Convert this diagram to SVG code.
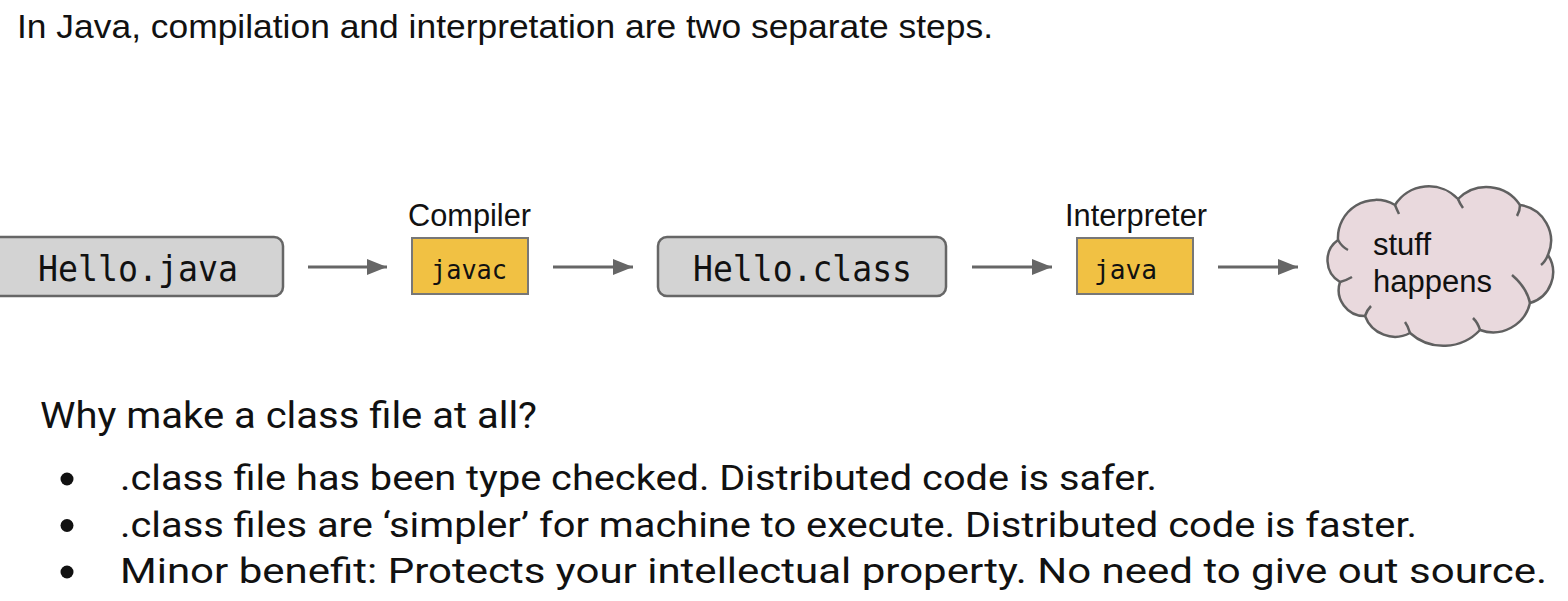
<svg xmlns="http://www.w3.org/2000/svg" width="1568" height="601" viewBox="0 0 1568 601">
<defs>
<style>
.sans{font-family:"Liberation Sans",Arial,sans-serif;fill:#111}
.rob{font-family:Roboto,"Liberation Sans",sans-serif;fill:#111}
.mono{font-family:"DejaVu Sans Mono","Liberation Mono",monospace;fill:#111}
.file{fill:#d3d3d3;stroke:#666;stroke-width:2.5}
.tool{fill:#f1c143;stroke:#777;stroke-width:2}
.conn{stroke:#666;stroke-width:3;fill:none}
</style>
<marker id="ah" markerWidth="20" markerHeight="16" refX="20" refY="8" orient="auto" markerUnits="userSpaceOnUse">
<path d="M0,0 L20,8 L0,16 Z" fill="#666"/>
</marker>
</defs>
<rect width="1568" height="601" fill="#fff"/>
<text class="sans" x="17" y="38" font-size="33" textLength="976" lengthAdjust="spacingAndGlyphs">In Java, compilation and interpretation are two separate steps.</text>

<g id="hello-java">
<rect class="file" x="-8" y="237" width="291" height="59" rx="9"/>
<text class="mono" x="38" y="281" font-size="35" textLength="200" lengthAdjust="spacingAndGlyphs">Hello.java</text>
</g>
<g id="javac">
<text class="sans" x="408" y="226" font-size="31" textLength="123" lengthAdjust="spacingAndGlyphs">Compiler</text>
<rect class="tool" x="412" y="238" width="116" height="56"/>
<text class="mono" x="431" y="279" font-size="27" textLength="76" lengthAdjust="spacingAndGlyphs">javac</text>
</g>
<g id="hello-class">
<rect class="file" x="658" y="237" width="288" height="59" rx="9"/>
<text class="mono" x="693" y="281" font-size="35" textLength="219" lengthAdjust="spacingAndGlyphs">Hello.class</text>
</g>
<g id="java">
<text class="sans" x="1065" y="226" font-size="31" textLength="142" lengthAdjust="spacingAndGlyphs">Interpreter</text>
<rect class="tool" x="1077" y="238" width="116" height="56"/>
<text class="mono" x="1094" y="279" font-size="27" textLength="63" lengthAdjust="spacingAndGlyphs">java</text>
</g>
<g id="stuff">
<path d="M1338,240 A38,38 0 0 1 1395,205 A40,40 0 0 1 1458,199 A40,40 0 0 1 1520,205 A36,36 0 0 1 1548,255 A32,32 0 0 1 1530,303 A38,38 0 0 1 1480,330 A50,50 0 0 1 1410,333 A32,32 0 0 1 1365,316 A26,26 0 0 1 1340,282 A25,25 0 0 1 1338,240 Z" fill="#e9d9dd" stroke="#606060" stroke-width="2.5"/>
<path d="M1338,240 Q1342,247 1348,250 M1340,282 Q1347,280 1352,277 M1365,316 Q1367,310 1371,306 M1410,333 Q1408,326 1405,322 M1480,330 Q1478,323 1473,318 M1530,303 Q1527,288 1512,275 M1548,255 Q1545,262 1541,265 M1520,205 Q1520,211 1517,216 M1458,199 Q1460,204 1463,208 M1395,205 Q1397,210 1399,214" fill="none" stroke="#606060" stroke-width="2.5"/>
<text class="sans" x="1373" y="255" font-size="31">stuff</text>
<text class="sans" x="1373" y="292" font-size="31">happens</text>
</g>
<g id="connectors">
<line class="conn" x1="308" y1="267" x2="387" y2="267" marker-end="url(#ah)"/>
<line class="conn" x1="553" y1="267" x2="633" y2="267" marker-end="url(#ah)"/>
<line class="conn" x1="972" y1="267" x2="1052" y2="267" marker-end="url(#ah)"/>
<line class="conn" x1="1218" y1="267" x2="1298" y2="267" marker-end="url(#ah)"/>
</g>

<text class="rob" x="40" y="428" font-size="37" textLength="497" lengthAdjust="spacingAndGlyphs">Why make a class file at all?</text>
<g fill="#111">
<circle cx="67" cy="479" r="6.5"/>
<circle cx="67" cy="525.5" r="6.5"/>
<circle cx="67" cy="572" r="6.5"/>
</g>
<text class="rob" x="120" y="490" font-size="35" textLength="1037" lengthAdjust="spacingAndGlyphs">.class file has been type checked. Distributed code is safer.</text>
<text class="rob" x="120" y="536.5" font-size="35" textLength="1297" lengthAdjust="spacingAndGlyphs">.class files are ‘simpler’ for machine to execute. Distributed code is faster.</text>
<text class="rob" x="120" y="583" font-size="35" textLength="1427" lengthAdjust="spacingAndGlyphs">Minor benefit: Protects your intellectual property. No need to give out source.</text>
</svg>
